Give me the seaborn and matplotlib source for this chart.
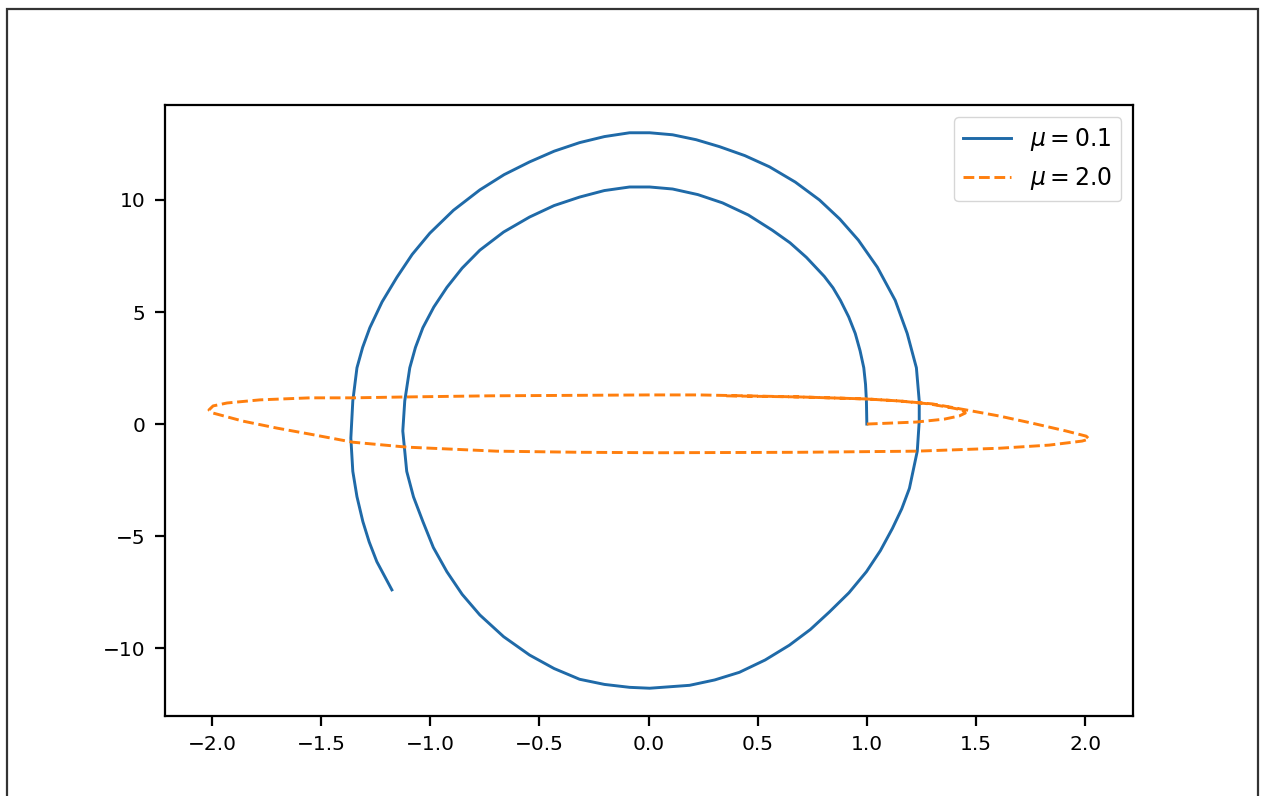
import pandas as pd
import seaborn as sns
from matplotlib import pyplot as plt
from matplotlib.patches import Rectangle

# points (x, y)
blue_x = [1.0, 0.998, 0.994, 0.986, 0.969, 0.947, 0.917, 0.879, 0.845, 0.805, 0.723,
          0.648, 0.567, 0.457, 0.339,
          0.226, 0.110, 0.005, -0.087, -0.203, -0.316, -0.433, -0.545, -0.664, -0.773,
          -0.854, -0.924, -0.984, -1.034, -1.068, -1.094, -1.117, -1.126, -1.108, -1.077,
          -1.034, -0.986, -0.924, -0.854, -0.773, -0.664, -0.545, -0.433, -0.316, -0.202,
          -0.087, 0.005, 0.188, 0.303, 0.416, 0.534, 0.645, 0.741, 0.828, 0.918,
          0.998, 1.062, 1.117, 1.160, 1.195, 1.231, 1.240, 1.240, 1.227, 1.185,
          1.130, 1.048, 0.961, 0.876, 0.783, 0.672, 0.554, 0.441, 0.325, 0.218,
          0.110, 0.005, -0.087, -0.202, -0.316, -0.432, -0.545, -0.662, -0.773, -0.894,
          -1.002, -1.083, -1.153, -1.221, -1.277, -1.310, -1.336, -1.355, -1.364, -1.355,
          -1.336, -1.309, -1.280, -1.245, -1.176]
blue_y = [0.0, 1.03, 1.77, 2.51, 3.27, 4.04, 4.78, 5.52, 6.08, 6.59, 7.44,
          8.09, 8.65, 9.33, 9.87,
          10.24, 10.49, 10.58, 10.58, 10.42, 10.13, 9.75, 9.24, 8.57, 7.76,
          6.96, 6.10, 5.22, 4.30, 3.42, 2.51, 1.03, -0.31, -2.11, -3.25,
          -4.35, -5.51, -6.59, -7.60, -8.52, -9.49, -10.31, -10.91, -11.39, -11.62,
          -11.75, -11.79, -11.66, -11.42, -11.08, -10.53, -9.87, -9.17, -8.39, -7.53,
          -6.59, -5.65, -4.66, -3.78, -2.87, -1.21, 0.13, 1.03, 2.51, 4.04,
          5.52, 7.00, 8.21, 9.15, 10.0, 10.80, 11.48, 11.98, 12.38, 12.69,
          12.91, 13.00, 13.00, 12.83, 12.56, 12.18, 11.70, 11.13, 10.45, 9.54,
          8.52, 7.57, 6.55, 5.45, 4.30, 3.42, 2.51, 1.03, -0.63, -2.11,
          -3.24, -4.35, -5.26, -6.14, -7.40]

orange_x = [1.0, 1.227, 1.355, 1.423, 1.451, 1.437, 1.391, 1.286, 1.149, 0.998, 0.691,
            0.233, 0.005, -0.728, -1.108, -1.355, -1.551, -1.78, -1.931, -1.995, -2.014,
            -1.995, -1.858, -1.703, -1.551, -1.355, -1.108, -0.696, -0.316, 0.05, 0.691,
            1.227, 1.606, 1.835, 1.986, 2.018, 2.005, 1.913, 1.757, 1.606, 1.455, 1.30,
            1.149, 0.998, 0.691, 0.348]
orange_y = [0.0, 0.09, 0.22, 0.36, 0.49, 0.63, 0.72, 0.90, 1.03, 1.12, 1.21,
            1.30, 1.30, 1.26, 1.21, 1.17, 1.17, 1.08, 0.94, 0.81, 0.63,
            0.49, 0.13, -0.18, -0.45, -0.81, -1.03, -1.21, -1.26, -1.28, -1.26,
            -1.21, -1.08, -0.94, -0.76, -0.67, -0.54, -0.31, 0.04, 0.36, 0.63, 0.90,
            1.03, 1.12, 1.21, 1.26]

labels = [r"$\mu = 0.1$", r"$\mu = 2.0$"]

plt.rcParams["font.size"] = 14.5
plt.rcParams["axes.linewidth"] = 1.6
plt.rcParams["xtick.major.width"] = 1.6
plt.rcParams["ytick.major.width"] = 1.6
plt.rcParams["xtick.major.size"] = 7
plt.rcParams["ytick.major.size"] = 7
plt.rcParams["xtick.major.pad"] = 7
plt.rcParams["ytick.major.pad"] = 7

fig = plt.figure(figsize=(12.65, 7.96), dpi=100)
ax = fig.add_axes([0.1304, 0.1005, 0.7653, 0.7676])

blue = pd.DataFrame({"x": blue_x, "y": blue_y})
orange = pd.DataFrame({"x": orange_x, "y": orange_y})

sns.lineplot(data=blue, x="x", y="y", sort=False, estimator=None, ax=ax,
             color="#1f6aa8", linewidth=2.1, label=labels[0])
sns.lineplot(data=orange, x="x", y="y", sort=False, estimator=None, ax=ax,
             color="#ff7f0e", linewidth=2.1, linestyle="--", label=labels[1])

ax.set_xlabel("")
ax.set_ylabel("")
ax.legend(loc="upper right", fontsize=17)

# outer frame of the screenshot
fig.patches.append(Rectangle((0.0055, -0.02), 0.989, 1.0087, transform=fig.transFigure,
                             fill=False, edgecolor="#333333", linewidth=1.6, clip_on=False))

fig.savefig("out.png", dpi=100)
